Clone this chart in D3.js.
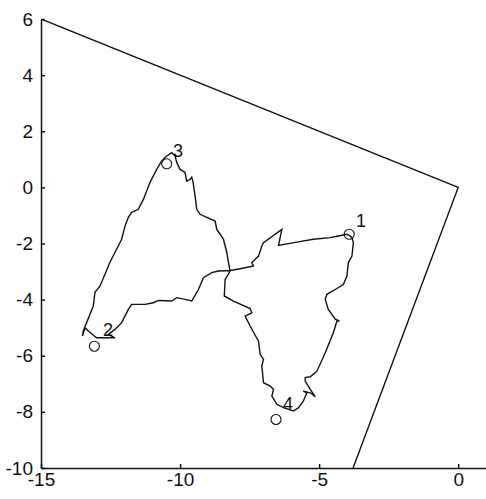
<!DOCTYPE html>
<html lang="en">
<head>
  <meta charset="UTF-8">
  <title>Trajectory</title>
  <script src="https://d3js.org/d3.v7.min.js"></script>
  <style>
    body { margin: 0; background: #fff; }
    text { font-family: "Liberation Sans", Arial, sans-serif; }
  </style>
</head>
<body>
<div class="main"></div>
<script>
  // axis settings
  var xTicks = [-15, -10, -5, 0];
  var yTicks = [-10, -8, -6, -4, -2, 0, 2, 4, 6];

  // outer boundary lines
  var boundary = [[-15, 6], [0, 0], [-3.78, -10]];

  // traced path (x, y), starting at point 1
  var pathX = [-3.92, -4.00, -4.36, -4.60, -5.21, -5.80, -6.46, -6.34, -7.00, -7.06, -7.18, -7.42, -7.36, -7.84, -8.20,
    -8.62, -8.86, -9.16, -9.34, -9.58, -9.82, -10.12, -10.30, -10.78, -10.96, -11.26, -11.74, -11.86, -12.10, -12.34,
    -12.58, -12.34, -12.70, -13.00, -13.30, -13.42, -13.51, -13.48,
    -13.12, -13.06, -12.88, -12.52, -12.10, -11.98, -11.86, -11.74, -11.50, -11.32, -11.08, -10.84, -10.66, -10.48, -10.30,
    -10.18, -10.12, -10.00, -9.82, -9.76, -9.64, -9.58, -9.53, -9.46, -9.40, -9.28, -9.04, -8.74, -8.68, -8.56, -8.44,
    -8.32, -8.26, -8.20, -8.38, -8.41, -8.08, -7.48, -7.42, -7.66, -7.48, -7.18, -7.12, -7.00, -7.06, -7.00, -6.76,
    -6.64, -6.70, -6.52, -6.28, -5.92, -5.74, -5.57, -5.44, -5.57, -5.32, -5.14, -5.32, -5.50, -5.50, -5.32, -5.08,
    -4.78, -4.49, -4.36, -4.27, -4.42, -4.67, -4.78, -4.72, -4.42, -4.13, -4.00, -3.95, -3.82, -3.77, -3.82, -3.92];
  var pathY = [-1.71, -1.67, -1.74, -1.79, -1.85, -1.95, -2.07, -1.50, -1.97, -2.09, -2.45, -2.68, -2.80, -2.90, -2.96,
    -2.98, -3.04, -3.22, -3.64, -4.05, -3.99, -3.93, -4.05, -4.03, -4.11, -4.17, -4.17, -4.35, -4.82, -5.06,
    -5.24, -5.36, -5.36, -5.36, -5.12, -5.00, -5.30, -5.12,
    -4.23, -3.74, -3.52, -2.67, -1.85, -1.38, -1.07, -0.89, -0.78, -0.43, 0.18, 0.64, 0.94, 1.12, 1.24,
    1.12, 0.89, 0.64, 0.53, 0.22, 0.29, 0.36, 0.18, -0.31, -0.78, -0.96, -1.07, -1.20, -1.50, -1.67, -1.85,
    -2.32, -2.67, -2.98, -3.28, -3.87, -4.05, -4.32, -4.47, -4.59, -4.94, -5.48, -5.95, -6.13, -6.37, -6.96, -7.08,
    -7.20, -7.44, -7.73, -7.85, -7.97, -7.85, -7.62, -7.32, -7.26, -7.32, -7.46, -7.20, -6.90, -6.78, -6.75, -6.55,
    -5.89, -5.18, -4.76, -4.76, -4.70, -4.35, -3.99, -3.81, -3.64, -3.46, -3.16, -2.68, -2.45, -1.97, -1.79, -1.71];

  // marked points
  var markLabels = ["1", "2", "3", "4"];
  var markX = [-3.92, -13.08, -10.48, -6.55];
  var markY = [-1.67, -5.66, 0.84, -8.27];
  var labelX = [-3.67, -12.77, -10.25, -6.30];
  var labelY = [-1.41, -5.30, 1.08, -7.93];

  let width = 486;
  let height = 499;
  let svg = d3.select(".main").append("svg").attr("width", width).attr("height", height).style("display", "block");

  let x = d3.scaleLinear().domain([-15, 1]).range([41, 486]);
  let y = d3.scaleLinear().domain([-10, 6]).range([468, 19]);

  svg.append("defs").append("clipPath").attr("id", "plot")
    .append("rect").attr("x", 41).attr("y", 19).attr("width", 445).attr("height", 449);

  // boundary
  svg.append("path").attr("clip-path", "url(#plot)")
    .attr("d", d3.line().x(d => x(d[0])).y(d => y(d[1]))(boundary))
    .style("fill", "none").style("stroke", "#111").style("stroke-width", 1.4);

  // trajectory
  var pts = pathX.map((v, i) => [v, pathY[i]]);
  svg.append("path")
    .attr("d", d3.line().x(d => x(d[0])).y(d => y(d[1]))(pts))
    .style("fill", "none").style("stroke", "#111").style("stroke-width", 1.4);

  // markers + labels
  for (let i = 0; i < markLabels.length; i++) {
    svg.append("circle").attr("cx", x(markX[i])).attr("cy", y(markY[i])).attr("r", 5)
      .style("fill", "none").style("stroke", "#111").style("stroke-width", 1.1);
    svg.append("text").attr("x", x(labelX[i])).attr("y", y(labelY[i]))
      .style("font-size", "18px").style("fill", "#111").text(markLabels[i]);
  }

  // axes
  let xAxis = svg.append("g").attr("transform", `translate(0,${y(-10)})`)
    .call(d3.axisBottom(x).tickValues(xTicks).tickSizeInner(-4).tickSizeOuter(0).tickPadding(5));
  let yAxis = svg.append("g").attr("transform", `translate(${x(-15)},0)`)
    .call(d3.axisLeft(y).tickValues(yTicks).tickSizeInner(-4).tickSizeOuter(0).tickPadding(8));
  [xAxis, yAxis].forEach(function(a) {
    a.selectAll("path, line").style("stroke", "#111").style("stroke-width", 1.5);
    a.selectAll("text").style("font-size", "19px").style("fill", "#111")
      .style("font-family", "Liberation Sans, Arial, sans-serif")
      .text(function(d) { return String(d); });
  });
</script>
</body>
</html>
